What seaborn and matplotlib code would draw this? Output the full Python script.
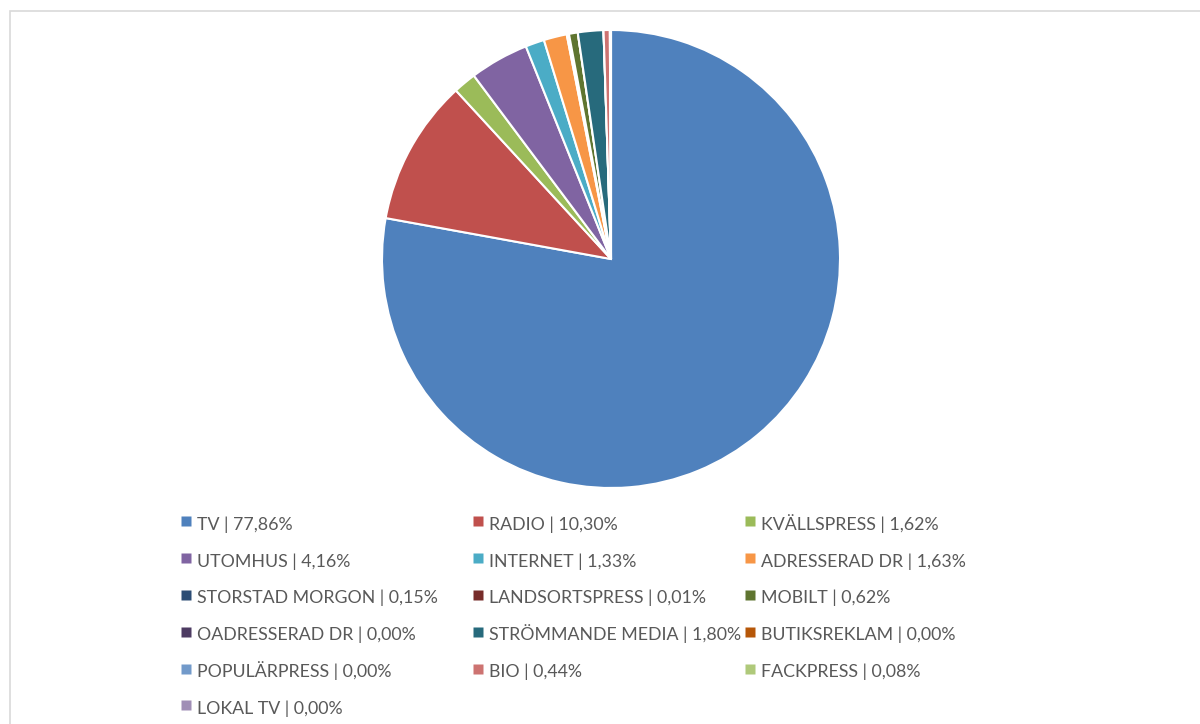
import matplotlib.pyplot as plt
from matplotlib.lines import Line2D
from matplotlib.patches import Rectangle
import seaborn as sns

# Data (share of media spend, %)
categories = ['TV', 'RADIO', 'KVÄLLSPRESS', 'UTOMHUS', 'INTERNET', 'ADRESSERAD DR',
              'STORSTAD MORGON', 'LANDSORTSPRESS', 'MOBILT', 'OADRESSERAD DR',
              'STRÖMMANDE MEDIA', 'BUTIKSREKLAM', 'POPULÄRPRESS', 'BIO', 'FACKPRESS',
              'LOKAL TV']
shares = [77.86, 10.30, 1.62, 4.16, 1.33, 1.63, 0.15, 0.01, 0.62, 0.00,
          1.80, 0.00, 0.00, 0.44, 0.08, 0.00]
colors = ['#4F81BD', '#C0504D', '#9BBB59', '#8064A2', '#4BACC6', '#F79646',
          '#2C4D75', '#772C2A', '#5F7530', '#4D3B62', '#276A7C', '#B65708',
          '#729ACA', '#CD7371', '#AFC97A', '#A08EB6']


def main():
    sns.set_theme(style='white')
    plt.rcParams['font.family'] = ['Lato', 'DejaVu Sans']
    palette = sns.color_palette(colors)

    W, H = 1200, 724
    fig = plt.figure(figsize=(W / 100, H / 100), dpi=100)

    # chart border (grey frame, only left and top edges fall inside the image)
    fig.patches.append(Rectangle((10 / W, -0.1), 1.1, 1.1 - 11 / H, transform=fig.transFigure,
                                 fill=False, edgecolor='#D9D9D9', linewidth=1.2))

    cx, cy, r = 611, 259, 229
    ax = fig.add_axes([(cx - r) / W, (H - cy - r) / H, 2 * r / W, 2 * r / H])
    ax.pie(shares, colors=palette, startangle=90, counterclock=False,
           wedgeprops=dict(edgecolor='white', linewidth=1.5))
    ax.set_xlim(-1, 1)
    ax.set_ylim(-1, 1)
    ax.set_aspect('equal')

    labels = [f'{c} | {v:.2f}%'.replace('.', ',') for c, v in zip(categories, shares)]
    handles = [Line2D([], [], linestyle='none', marker='s', markersize=6.5,
                      markerfacecolor=col, markeredgecolor='none') for col in palette]

    # legend reads row by row in 3 columns; one legend per column,
    # tall handle boxes keep the rows aligned across columns
    col_x = [181, 473, 745]
    for j, x in enumerate(col_x):
        idx = list(range(j, len(labels), 3))
        fig.legend([handles[i] for i in idx], [labels[i] for i in idx],
                   loc='upper left', bbox_to_anchor=(x / W, 1 - 513 / H),
                   ncol=1, frameon=False, fontsize=12.8, labelcolor='#595959',
                   handlelength=0.6, handleheight=1.5, handletextpad=0.3,
                   labelspacing=0.85, borderpad=0, borderaxespad=0)

    fig.savefig('out.png', dpi=100, facecolor='white')


if __name__ == '__main__':
    main()
